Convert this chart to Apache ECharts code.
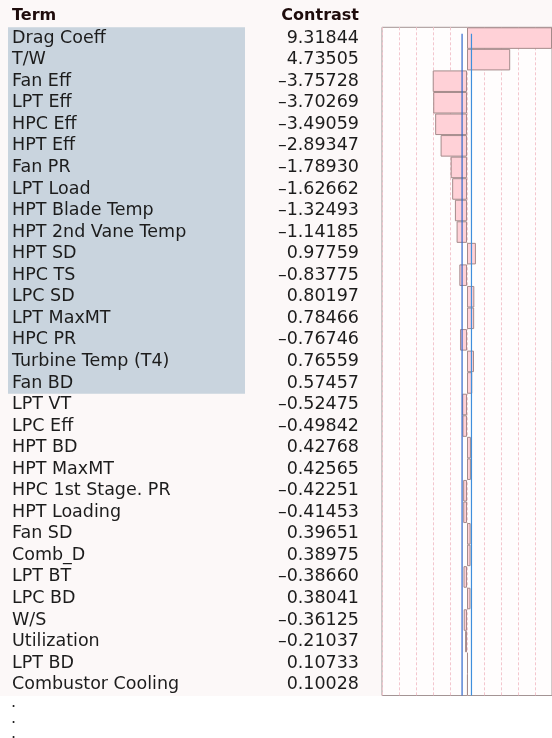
<!DOCTYPE html>
<html>
<head>
<meta charset="utf-8">
<script src="https://cdn.jsdelivr.net/npm/echarts@6/dist/echarts.min.js"></script>
<style>
  html, body { margin: 0; padding: 0; background: #ffffff; }
  #chart { width: 552px; height: 738px; }
</style>
</head>
<body>
<div id="chart"></div>
<script>
// Screening contrasts, sorted by magnitude
const terms = [
  'Drag Coeff', 'T/W', 'Fan Eff', 'LPT Eff', 'HPC Eff', 'HPT Eff', 'Fan PR',
  'LPT Load', 'HPT Blade Temp', 'HPT 2nd Vane Temp', 'HPT SD', 'HPC TS',
  'LPC SD', 'LPT MaxMT', 'HPC PR', 'Turbine Temp (T4)', 'Fan BD', 'LPT VT',
  'LPC Eff', 'HPT BD', 'HPT MaxMT', 'HPC 1st Stage. PR', 'HPT Loading',
  'Fan SD', 'Comb_D', 'LPT BT', 'LPC BD', 'W/S', 'Utilization', 'LPT BD',
  'Combustor Cooling'
];
const contrasts = [
  9.31844, 4.73505, -3.75728, -3.70269, -3.49059, -2.89347, -1.78930,
  -1.62662, -1.32493, -1.14185, 0.97759, -0.83775, 0.80197, 0.78466,
  -0.76746, 0.76559, 0.57457, -0.52475, -0.49842, 0.42768, 0.42565,
  -0.42251, -0.41453, 0.39651, 0.38975, -0.38660, 0.38041, -0.36125,
  -0.21037, 0.10733, 0.10028
];
// Number of leading terms flagged as active
const activeCount = 17;
// Reference lines either side of zero
const refLines = [-0.54, 0.49];

const axisMax = Math.max(...contrasts.map(Math.abs));
const gridStep = axisMax / 5;
const rows = terms.length;

const fmt = v => (v < 0 ? '\u2013' : '') + Math.abs(v).toFixed(5);
const font = 'DejaVu Sans';

const chart = echarts.init(document.getElementById('chart'), null, { renderer: 'canvas' });

const refSeries = refLines.map((x, k) => ({
  type: 'line', xAxisIndex: 1, yAxisIndex: 3, silent: true, z: 5,
  symbol: 'none',
  data: [[x, 0.3], [x, rows]],
  lineStyle: { color: k === 0 ? '#2f66cc' : '#3f8fdc', width: 1.2 }
}));

chart.setOption({
  backgroundColor: '#ffffff',
  animation: false,
  graphic: [
    { type: 'rect', z: -10, shape: { x: 0, y: 0, width: 552, height: 696 },
      style: { fill: '#fcf8f8' } },
    { type: 'text', left: 12, top: 8,
      style: { text: 'Term', font: 'bold 16px "DejaVu Sans"', fill: '#1e0c0c' } },
    { type: 'text', right: 193, top: 8,
      style: { text: 'Contrast', font: 'bold 16px "DejaVu Sans"', fill: '#1e0c0c', textAlign: 'right' } },
    { type: 'text', left: 11, top: 695, style: { text: '.', font: '16px "DejaVu Sans"', fill: '#222' } },
    { type: 'text', left: 11, top: 711, style: { text: '.', font: '16px "DejaVu Sans"', fill: '#222' } },
    { type: 'text', left: 11, top: 726, style: { text: '.', font: '16px "DejaVu Sans"', fill: '#222' } }
  ],
  grid: [
    { left: 8, top: 27.3, width: 237, height: 668.2, containLabel: false },
    { left: 382, top: 27.3, width: 171, height: 668.2, containLabel: false,
      show: true, backgroundColor: '#fffdfd', borderColor: '#a39494', borderWidth: 1 }
  ],
  xAxis: [
    { gridIndex: 0, type: 'value', min: 0, max: 1, show: false },
    { gridIndex: 1, type: 'value', min: -axisMax, max: axisMax, interval: gridStep,
      axisLine: { show: false }, axisTick: { show: false }, axisLabel: { show: false },
      splitLine: { show: true, lineStyle: { color: '#f4c6ce', type: [3, 2], width: 1 } } }
  ],
  yAxis: [
    { gridIndex: 0, type: 'category', data: terms, inverse: true, z: 6,
      axisLine: { show: false }, axisTick: { show: false }, splitLine: { show: false },
      axisLabel: { inside: true, margin: 4, align: 'left', fontFamily: font, fontSize: 17.5,
        color: '#1c1c1c', interval: 0, padding: [2, 0, 0, 0] } },
    { gridIndex: 0, type: 'category', data: terms, inverse: true, position: 'right', offset: 114, z: 6,
      axisLine: { show: false }, axisTick: { show: false }, splitLine: { show: false },
      axisLabel: { inside: true, margin: 0, align: 'right', fontFamily: font, fontSize: 17.5,
        color: '#1c1c1c', interval: 0, padding: [2, 0, 0, 0],
        formatter: (v, i) => fmt(contrasts[i]) } },
    { gridIndex: 1, type: 'category', data: terms, inverse: true,
      axisLine: { show: false }, axisTick: { show: false }, axisLabel: { show: false },
      splitLine: { show: false } },
    { gridIndex: 1, type: 'value', min: 0, max: rows, inverse: true, show: false }
  ],
  series: [
    {
      // one shaded block behind the active terms
      type: 'custom', xAxisIndex: 0, yAxisIndex: 0, silent: true, z: 1,
      data: [[0, 0]],
      renderItem: (params, api) => {
        const p0 = api.coord([0, 0]);
        const p1 = api.coord([1, 0]);
        const band = api.size([0, 1])[1];
        return {
          type: 'rect',
          shape: { x: p0[0], y: p0[1] - band / 2, width: p1[0] - p0[0], height: band * activeCount },
          style: { fill: '#c9d4de' }
        };
      }
    },
    {
      type: 'bar', xAxisIndex: 1, yAxisIndex: 2, silent: true, z: 3,
      barCategoryGap: '0%',
      data: contrasts,
      itemStyle: { color: '#ffd1d7', borderColor: '#a48a8a', borderWidth: 1 }
    },
    ...refSeries
  ]
});
</script>
</body>
</html>
